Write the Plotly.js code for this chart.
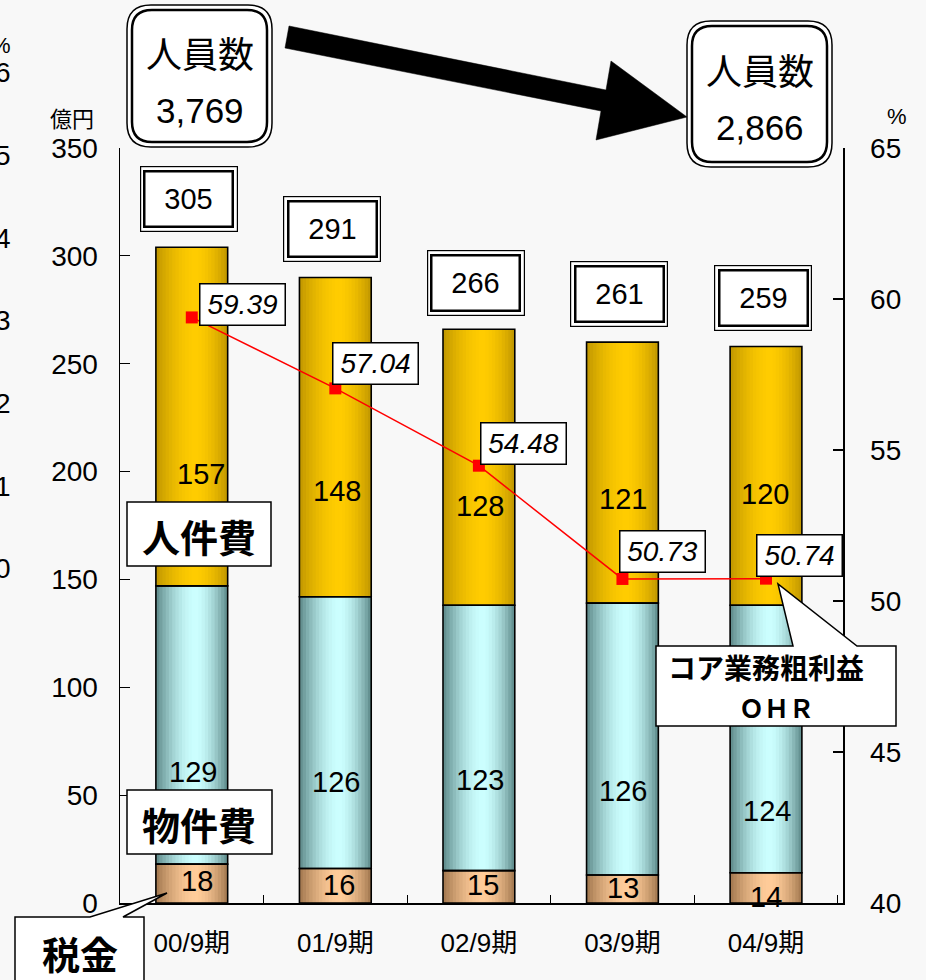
<!DOCTYPE html>
<html>
<head>
<meta charset="utf-8">
<script src="https://cdn.plot.ly/plotly-3.0.1.min.js"></script>
<style>html,body{margin:0;padding:0;background:#f8f8f8;}#chart{width:926px;height:980px;}</style>
</head>
<body>
<div id="chart"></div>
<script>
// ---------------- data ----------------
const categories = ['00/9期', '01/9期', '02/9期', '03/9期', '04/9期'];
const tax        = [18, 16, 15, 13, 14];          // 税金
const material   = [129, 126, 123, 126, 124];     // 物件費
const personnel  = [157, 148, 128, 121, 120];     // 人件費
const totals     = [305, 291, 266, 261, 259];     // 合計ラベル
const ohr        = [59.39, 57.04, 54.48, 50.73, 50.74]; // コア業務粗利益OHR (%)
const headcountStart = '3,769';
const headcountEnd   = '2,866';
const ghostLabels = ['%', '6', '5', '4', '3', '2', '1', '0'];
const leftUnit = '億円';
const rightUnit = '%';

// ---------------- geometry helpers (pixel -> paper) ----------------
const L = 120, R = 843, T = 148, B = 903;
const px = x => (x - L) / (R - L);
const py = y => (B - y) / (B - T);
function poly(pts) {
  return 'M ' + pts.map(p => px(p[0]).toFixed(5) + ',' + py(p[1]).toFixed(5)).join(' L ') + ' Z';
}
function rrect(x0, y0, x1, y1, r) {
  const P = (x, y) => px(x).toFixed(5) + ',' + py(y).toFixed(5);
  return 'M ' + P(x0 + r, y0) + ' L ' + P(x1 - r, y0) + ' Q ' + P(x1, y0) + ' ' + P(x1, y0 + r) +
    ' L ' + P(x1, y1 - r) + ' Q ' + P(x1, y1) + ' ' + P(x1 - r, y1) +
    ' L ' + P(x0 + r, y1) + ' Q ' + P(x0, y1) + ' ' + P(x0, y1 - r) +
    ' L ' + P(x0, y0 + r) + ' Q ' + P(x0, y0) + ' ' + P(x0 + r, y0) + ' Z';
}

// ---------------- bars with cylinder gradient ----------------
const baseTax = tax.map(() => 0);
const baseMat = tax.slice();
const basePer = tax.map((v, i) => v + material[i]);

const segs = [
  {vals: tax,       base: baseTax, dark: [160, 118, 78],  light: [255, 204, 153]},
  {vals: material,  base: baseMat, dark: [92, 136, 136],  light: [204, 255, 255]},
  {vals: personnel, base: basePer, dark: [192, 150, 0],   light: [255, 204, 0]}
];
const BW = 0.5, NS = 22;
const traces = [];
segs.forEach(s => {
  for (let i = 0; i < NS; i++) {
    const t = (i + 0.5) / NS;
    const pk = 0.55;
    const d = t < pk ? (pk - t) / pk : (t - pk) / (1 - pk);
    const g = 1 - Math.pow(d, 1.7);
    const c = s.dark.map((dv, k) => Math.round(dv + (s.light[k] - dv) * g));
    const w = i < NS - 1 ? BW / NS * 1.8 : BW / NS;
    traces.push({
      type: 'bar', x: categories, y: s.vals, base: s.base,
      width: w, offset: -BW / 2 + i * BW / NS,
      marker: {color: 'rgb(' + c.join(',') + ')', line: {width: 0}},
      hoverinfo: 'skip', showlegend: false
    });
  }
});
segs.forEach(s => {
  traces.push({
    type: 'bar', x: categories, y: s.vals, base: s.base,
    width: BW, offset: -BW / 2,
    marker: {color: 'rgba(0,0,0,0)', line: {width: 1.6, color: '#000'}},
    hoverinfo: 'skip', showlegend: false
  });
});
traces.push({
  type: 'scatter', mode: 'lines+markers', x: categories, y: ohr, yaxis: 'y2',
  line: {color: '#ff0000', width: 1.5},
  marker: {symbol: 'square', size: 12, color: '#ff0000'},
  hoverinfo: 'skip', showlegend: false
});

// ---------------- annotations ----------------
const numFont = {family: 'Liberation Sans, Arial, sans-serif', size: 29, color: '#000'};
const ann = [];

// value labels in segments (label position as fraction of segment height)
const fracTax = [0.57, 0.52, 0.56, 0.53, 0.2];
const fracMat = [0.33, 0.32, 0.34, 0.31, 0.23];
const fracPer = [0.33, 0.33, 0.36, 0.40, 0.43];
const shiftTax = [5, 4, 4, 1, 0];
const shiftPer = [9, 2, 1, 1, -1];
categories.forEach((c, i) => {
  ann.push({x: c, y: baseTax[i] + tax[i] * fracTax[i], xref: 'x', yref: 'y', text: String(tax[i]),
    showarrow: false, font: numFont, xshift: shiftTax[i]});
  ann.push({x: c, y: baseMat[i] + material[i] * fracMat[i], xref: 'x', yref: 'y', text: String(material[i]),
    showarrow: false, font: numFont, xshift: 1});
  ann.push({x: c, y: basePer[i] + personnel[i] * fracPer[i], xref: 'x', yref: 'y', text: String(personnel[i]),
    showarrow: false, font: numFont, xshift: shiftPer[i]});
});

// totals in double-bordered boxes
categories.forEach((c, i) => {
  const common = {x: c, y: totals[i], xref: 'x', yref: 'y', text: String(totals[i]), showarrow: false,
    font: numFont, xanchor: 'center', yanchor: 'middle', yshift: 46, xshift: -3, bgcolor: '#ffffff',
    bordercolor: '#000'};
  ann.push(Object.assign({}, common, {width: 92, height: 60, borderpad: 2, borderwidth: 1.2}));
  ann.push(Object.assign({}, common, {width: 82, height: 49, borderpad: 2, borderwidth: 2.5}));
});

// OHR labels
const ohrDx = [7, -3, 1, -3, -10];
const ohrDy = [-9, 3, 1, 6, 2];
categories.forEach((c, i) => {
  ann.push({x: c, y: ohr[i], xref: 'x', yref: 'y2', text: '<i>' + ohr[i].toFixed(2) + '</i>',
    showarrow: false, xanchor: 'left', yanchor: 'bottom', xshift: ohrDx[i], yshift: ohrDy[i],
    font: {family: 'Liberation Sans, Arial, sans-serif', size: 28, color: '#000'},
    bgcolor: '#ffffff', bordercolor: '#000', borderwidth: 1.5, borderpad: 1, width: 82, height: 38});
});

// paper-positioned text helper (explicit centre anchors)
const cjk = 'Noto Sans CJK JP, sans-serif';
function ptext(x, y, text, font, xanchor) {
  ann.push({x: px(x), y: py(y), xref: 'paper', yref: 'paper', text: text, showarrow: false,
    xanchor: xanchor || 'center', yanchor: 'middle', font: font});
}

// unit labels
ptext(72, 117, leftUnit, {family: cjk, size: 22, color: '#000'});
ptext(897, 117, rightUnit, {family: 'Liberation Sans, sans-serif', size: 22, color: '#000'});

// ghost (cut-off) labels at left edge, as in the reference
const ghostY = [45, 73, 155, 238, 320, 403, 486, 568];
ghostLabels.forEach((t, i) => {
  ptext(13, ghostY[i], t, {family: 'Liberation Sans, sans-serif', size: i === 0 ? 22 : 28, color: '#000'}, 'right');
});

// headcount
const hcFont = {family: cjk, size: 36, color: '#000'};
const hcNumFont = {family: 'Liberation Sans, sans-serif', size: 35, color: '#000'};
ptext(200, 52, '人員数', hcFont);
ptext(200, 110, headcountStart, hcNumFont);
ptext(760, 69, '人員数', hcFont);
ptext(760, 127, headcountEnd, hcNumFont);

// legend callouts
const boldFont = {family: cjk, size: 38, color: '#000', weight: 700};
ptext(199, 535, '<b>人件費</b>', boldFont);
ptext(199, 823, '<b>物件費</b>', boldFont);
ptext(80, 952, '<b>税金</b>', boldFont);
ptext(766, 667, '<b>コア業務粗利益</b>', {family: cjk, size: 28, color: '#000', weight: 700});
ptext(776, 707, '<b>ＯＨＲ</b>', {family: cjk, size: 25, color: '#000', weight: 700});

// ---------------- shapes ----------------
const shp = [];
const sb = (path, fill, w) => ({type: 'path', xref: 'paper', yref: 'paper', path: path,
  fillcolor: fill, line: {color: '#000', width: w}, layer: 'above'});
// big arrow
shp.push(sb(poly([[289, 26], [606, 90], [611, 61], [687, 117], [596, 140], [601, 111], [285, 48]]), '#000', 0.5));
// headcount boxes
shp.push(sb(rrect(127, 5, 272, 147, 24), '#ffffff', 1.5));
shp.push(sb(rrect(132, 10, 267, 142, 20), '#ffffff', 2.5));
shp.push(sb(rrect(687, 21, 832, 167, 24), '#ffffff', 1.5));
shp.push(sb(rrect(692, 26, 827, 162, 20), '#ffffff', 2.5));
// legend boxes
shp.push(sb(poly([[127, 502], [271, 502], [271, 566], [127, 566]]), '#ffffff', 1.5));
shp.push(sb(poly([[127, 790], [272, 790], [272, 854], [127, 854]]), '#ffffff', 1.5));
shp.push(sb(poly([[15, 917], [90, 917], [167, 893], [123, 917], [144, 917], [144, 990], [15, 990]]), '#ffffff', 1.5));
shp.push(sb(poly([[656, 646], [793, 646], [778, 584], [857, 646], [896, 646], [896, 726], [656, 726]]), '#ffffff', 1.5));

// ---------------- layout ----------------
const tickFont = {family: 'Liberation Sans, Arial, sans-serif', size: 28, color: '#000'};
const layout = {
  width: 926, height: 980,
  margin: {l: L, r: 926 - R, t: T, b: 980 - B, pad: 0},
  paper_bgcolor: '#f8f8f8', plot_bgcolor: '#f8f8f8',
  barmode: 'overlay', showlegend: false,
  font: {family: 'Liberation Sans, Noto Sans CJK JP, sans-serif', color: '#000'},
  xaxis: {type: 'category', showline: true, linecolor: '#000', linewidth: 1.5,
    ticks: 'inside', tickson: 'boundaries', ticklen: 8, tickcolor: '#000', tickwidth: 1.2,
    tickfont: {family: 'Liberation Sans, Noto Sans CJK JP, sans-serif', size: 26, color: '#000'},
    ticklabelstandoff: 16, showgrid: false, zeroline: false, fixedrange: true},
  yaxis: {range: [0, 350], dtick: 50, tick0: 0, showline: true, linecolor: '#000', linewidth: 1.5,
    ticks: 'inside', ticklen: 10, tickcolor: '#000', tickwidth: 1.2, tickfont: tickFont,
    ticklabelstandoff: 15, showgrid: false, zeroline: false, fixedrange: true},
  yaxis2: {range: [40, 65], dtick: 5, tick0: 40, overlaying: 'y', side: 'right', showline: true,
    linecolor: '#000', linewidth: 1.5, ticks: 'inside', ticklen: 10, tickcolor: '#000', tickwidth: 1.2,
    tickfont: tickFont, ticklabelstandoff: 20, showgrid: false, zeroline: false, fixedrange: true},
  annotations: ann,
  shapes: shp
};
Plotly.newPlot('chart', traces, layout, {staticPlot: true, displayModeBar: false});
</script>
</body>
</html>
